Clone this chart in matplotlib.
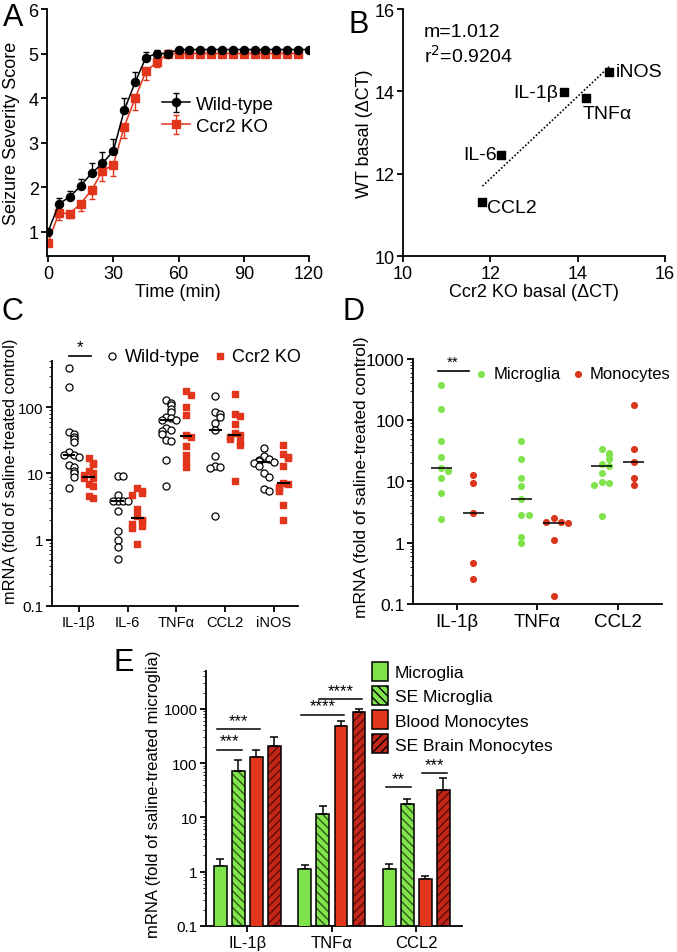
import numpy as np
import matplotlib
matplotlib.use("Agg")
import matplotlib.pyplot as plt
from matplotlib.ticker import LogLocator, NullFormatter
from matplotlib.patches import Patch

plt.rcParams['font.family'] = ['Liberation Sans', 'DejaVu Sans']
plt.rcParams['font.size'] = 13
plt.rcParams['axes.linewidth'] = 1.3
plt.rcParams['xtick.major.width'] = 1.3
plt.rcParams['ytick.major.width'] = 1.3
plt.rcParams['xtick.major.size'] = 4
plt.rcParams['ytick.major.size'] = 4
plt.rcParams['ytick.minor.size'] = 2
plt.rcParams['xtick.major.pad'] = 2.5
plt.rcParams['ytick.major.pad'] = 2
plt.rcParams['hatch.linewidth'] = 1.0

GREEN = '#80e34c'
RED = '#e2361c'
DARK_RED = '#c4261a'

# ---- panel A: seizure score over time ----
time_wt = np.arange(0, 125, 5)
score_wt = [1.0, 1.62, 1.78, 2.03, 2.31, 2.53, 2.81, 3.72, 4.35, 4.91, 5.0, 5.0,
            5.09, 5.09, 5.09, 5.09, 5.09, 5.09, 5.09, 5.09, 5.09, 5.09, 5.09, 5.09, 5.09]
err_wt = [0, 0.13, 0.13, 0.14, 0.24, 0.25, 0.26, 0.28, 0.24, 0.13, 0.09, 0.07,
          0, 0, 0, 0, 0, 0, 0, 0, 0, 0, 0, 0, 0]
time_ko = np.arange(0, 120, 5)
score_ko = [0.75, 1.42, 1.40, 1.63, 1.93, 2.36, 2.50, 3.35, 3.99, 4.60, 4.80, 5.0,
            5.0, 5.0, 5.0, 5.0, 5.0, 5.0, 5.0, 5.0, 5.0, 5.0, 5.0, 5.0]
err_ko = [0, 0.15, 0.10, 0.17, 0.19, 0.22, 0.25, 0.24, 0.25, 0.19, 0.10, 0,
          0, 0, 0, 0, 0, 0, 0, 0, 0, 0, 0, 0]

# ---- panel B: basal delta CT ----
genes_b = ['IL-1β', 'IL-6', 'TNFα', 'CCL2', 'iNOS']
ko_basal = [13.68, 12.25, 14.20, 11.82, 14.72]
wt_basal = [13.98, 12.46, 13.83, 11.31, 14.48]

# ---- panel C: WT vs Ccr2 KO ----
genes_c = ['IL-1β', 'IL-6', 'TNFα', 'CCL2', 'iNOS']
wt_c = [
    [390, 205, 43, 39, 36, 33, 30, 21, 19, 19, 18, 13.5, 12.5, 11, 10, 9, 6],
    [9.2, 9.2, 4.7, 3.9, 3.8, 3.8, 3.8, 2.7, 1.35, 1.0, 0.78, 0.52],
    [128, 115, 108, 95, 85, 72, 68, 65, 64, 48, 45, 44, 40, 32, 31, 16, 6.5],
    [148, 85, 80, 72, 58, 46, 18.5, 13, 12.5, 12, 2.3],
    [24, 18.5, 16.5, 16, 15.5, 15, 14.5, 13, 10, 9, 5.8, 5.5],
]
ko_c = [
    [17, 14.5, 14, 11, 10, 9.5, 8.5, 8.5, 7, 6.5, 4.5, 4.2],
    [6, 5.5, 5.0, 4.7, 2.9, 2.3, 2.0, 1.9, 1.75, 1.6, 1.5, 0.85],
    [178, 152, 100, 76, 38, 35, 26, 19, 15, 12.5],
    [158, 80, 75, 56, 41, 38, 36, 33, 30, 27, 7.7],
    [27, 20, 18, 17, 13, 7.2, 7, 6.3, 6, 5.5, 3.3, 2.0],
]

# ---- panel D: microglia vs monocytes ----
genes_d = ['IL-1β', 'TNFα', 'CCL2']
microglia_d = [
    [380, 154, 46, 25, 16.6, 14.6, 11.4, 6.5, 2.46],
    [45, 23.5, 11.4, 8.4, 5.1, 2.86, 2.8, 1.22, 1.0],
    [34, 29, 27, 23, 19, 18, 13.5, 9.8, 9.5, 8.8, 2.7],
]
monocytes_d = [
    [12.6, 9.5, 3.05, 0.47, 0.26],
    [2.5, 2.2, 2.15, 2.1, 1.1, 0.135],
    [178, 34, 20.7, 11.4, 8.6],
]

# ---- panel E: sorted populations ----
genes_e = ['IL-1β', 'TNFα', 'CCL2']
groups_e = ['Microglia', 'SE Microglia', 'Blood Monocytes', 'SE Brain Monocytes']
mean_e = [
    [1.27, 1.14, 1.14],
    [73, 11.5, 17.9],
    [129, 493, 0.72],
    [208, 893, 32.4],
]
sem_e = [
    [0.46, 0.21, 0.24],
    [40, 4.9, 3.6],
    [47, 107, 0.13],
    [97, 117, 20.6],
]
# (gene, bar i, bar j, height, stars)
sig_e = [
    (0, 0, 1, 177, '***'), (0, 0, 2, 430, '***'),
    (1, 0, 2, 780, '****'), (1, 1, 3, 1535, '****'),
    (2, 0, 1, 36.7, '**'), (2, 2, 3, 66.5, '***'),
]


def swarm_x(vals, center, step, tol):
    # put points side by side when they overlap on the log axis
    lv = np.log10(vals)
    xs = np.zeros(len(vals))
    for i in range(len(vals)):
        k = np.sum(np.abs(lv[:i] - lv[i]) < tol)
        side = 1 if k % 2 else -1
        xs[i] = center + side * ((k + 1) // 2) * step
    return xs


def log_axis(ax, top_decade, size):
    ax.set_yscale('log')
    ticks = [10.0 ** p for p in range(-1, top_decade + 1)]
    ax.set_yticks(ticks)
    ax.set_yticklabels(['0.1', '1', '10', '100', '1000'][:len(ticks)], fontsize=size)
    ax.yaxis.set_minor_locator(LogLocator(base=10, subs=np.arange(2, 10)))
    ax.yaxis.set_minor_formatter(NullFormatter())


def clean(ax):
    ax.spines['top'].set_visible(False)
    ax.spines['right'].set_visible(False)


fig = plt.figure(figsize=(6.77, 9.53), dpi=100)

# A
ax = fig.add_axes([0.0694, 0.7303, 0.387, 0.2592])
clean(ax)
ax.errorbar(time_wt, score_wt, yerr=[np.zeros(len(err_wt)), err_wt], color='black',
            lw=1.1, marker='o', ms=5.8, capsize=2.5, elinewidth=1, label='Wild-type', zorder=3)
ax.errorbar(time_ko, score_ko, yerr=[err_ko, np.zeros(len(err_ko))], color=RED,
            lw=1.1, marker='s', ms=5.2, capsize=2.5, elinewidth=1, label='Ccr2 KO', zorder=2)
ax.set_xlim(-0.5, 120)
ax.set_ylim(0.45, 6)
ax.set_xticks([0, 30, 60, 90, 120])
ax.set_yticks([1, 2, 3, 4, 5, 6])
ax.set_xlabel('Time (min)', labelpad=1)
ax.set_ylabel('Seizure Severity Score')
ax.yaxis.set_label_coords(-0.103, 0.5)
ax.legend(loc='center left', bbox_to_anchor=(0.44, 0.57), frameon=False,
          borderpad=0, borderaxespad=0, handlelength=1.5, handletextpad=0.3,
          labelspacing=0.25, fontsize=13.5)

# B
ax = fig.add_axes([0.5953, 0.7303, 0.387, 0.2592])
clean(ax)
ax.scatter(ko_basal, wt_basal, marker='s', s=28, color='black', zorder=3)
slope, icpt = np.polyfit(ko_basal, wt_basal, 1)
xf = np.array([min(ko_basal), max(ko_basal)])
ax.plot(xf, slope * xf + icpt, color='black', ls=(0, (1, 1.2)), lw=1.2)
ax.set_xlim(10, 16)
ax.set_ylim(10, 16)
ax.set_xticks([10, 12, 14, 16])
ax.set_yticks([10, 12, 14, 16])
ax.set_xlabel('Ccr2 KO basal (ΔCT)', labelpad=1)
ax.set_ylabel('WT basal (ΔCT)')
ax.yaxis.set_label_coords(-0.115, 0.5)
offsets_b = {'IL-1β': (-4, 0, 'right', 'center'), 'IL-6': (-3, 0, 'right', 'center'),
             'TNFα': (-3, -5, 'left', 'top'), 'CCL2': (3, -4, 'left', 'center'),
             'iNOS': (5, 0, 'left', 'center')}
for g, xv, yv in zip(genes_b, ko_basal, wt_basal):
    dx, dy, ha, va = offsets_b[g]
    ax.annotate(g, (xv, yv), xytext=(dx, dy), textcoords='offset points',
                ha=ha, va=va, fontsize=14)
ax.text(0.08, 0.91, 'm=1.012', transform=ax.transAxes, fontsize=14, va='center')
ax.text(0.08, 0.815, 'r$^2$=0.9204', transform=ax.transAxes, fontsize=14, va='center')

# C
ax = fig.add_axes([0.0768, 0.3631, 0.3634, 0.2571])
clean(ax)
for i in range(len(genes_c)):
    xw = swarm_x(wt_c[i], i - 0.2, 0.1, 0.07)
    xk = swarm_x(ko_c[i], i + 0.2, 0.1, 0.07)
    ax.scatter(xw, wt_c[i], s=26, facecolor='white', edgecolor='black', lw=0.9,
               label='Wild-type' if i == 0 else None, zorder=3)
    ax.scatter(xk, ko_c[i], s=24, marker='s', color=RED,
               label='Ccr2 KO' if i == 0 else None, zorder=3)
    ax.hlines(np.median(wt_c[i]), i - 0.33, i - 0.07, color='black', lw=1.5, zorder=4)
    ax.hlines(np.median(ko_c[i]), i + 0.07, i + 0.33, color='black', lw=1.5, zorder=4)
log_axis(ax, 2, 11)
ax.set_ylim(0.1, 500)
ax.set_xlim(-0.55, 4.5)
ax.set_xticks(range(len(genes_c)))
ax.set_xticklabels(genes_c, fontsize=10.5)
ax.set_ylabel('mRNA (fold of saline-treated control)', fontsize=11.8)
ax.yaxis.set_label_coords(-0.14, 0.555)
ax.plot([-0.2, 0.25], [590, 590], color='black', lw=1.2, clip_on=False)
ax.text(0.02, 640, '*', ha='center', va='bottom', fontsize=12)
ax.legend(ncol=2, loc='center left', bbox_to_anchor=(0.2, 1.02), frameon=False,
          borderpad=0, borderaxespad=0, handletextpad=0.1, columnspacing=0.5,
          fontsize=13, handlelength=1.2)

# D
ax = fig.add_axes([0.610, 0.3652, 0.3678, 0.2571])
clean(ax)
for i in range(len(genes_d)):
    xm = swarm_x(microglia_d[i], i - 0.2, 0.09, 0.08)
    xo = swarm_x(monocytes_d[i], i + 0.2, 0.09, 0.08)
    ax.scatter(xm, microglia_d[i], s=26, color=GREEN, lw=0,
               label='Microglia' if i == 0 else None, zorder=3)
    ax.scatter(xo, monocytes_d[i], s=26, color='#d8351c', lw=0,
               label='Monocytes' if i == 0 else None, zorder=3)
    ax.hlines(np.median(microglia_d[i]), i - 0.33, i - 0.07, color='black', lw=1.1, zorder=4)
    ax.hlines(np.median(monocytes_d[i]), i + 0.07, i + 0.33, color='black', lw=1.1, zorder=4)
log_axis(ax, 3, 12.5)
ax.set_ylim(0.1, 1000)
ax.set_xlim(-0.55, 2.55)
ax.set_xticks(range(len(genes_d)))
ax.set_xticklabels(genes_d, fontsize=13.5)
ax.set_ylabel('mRNA (fold of saline-treated control)', fontsize=12.5)
ax.yaxis.set_label_coords(-0.175, 0.522)
ax.plot([-0.24, 0.15], [640, 640], color='black', lw=1.2)
ax.text(-0.05, 700, '**', ha='center', va='bottom', fontsize=11)
ax.legend(ncol=2, loc='center left', bbox_to_anchor=(0.235, 0.94), frameon=False,
          borderpad=0, borderaxespad=0, handletextpad=0.1, columnspacing=0.45,
          fontsize=12, handlelength=1.2)

# E
ax = fig.add_axes([0.3043, 0.0273, 0.378, 0.2676])
clean(ax)
width = 0.15
offs = [-0.32, -0.107, 0.107, 0.32]
faces = [GREEN, GREEN, RED, DARK_RED]
hatches = [None, '\\\\\\\\', None, '////']
hcols = [None, '#2f5a14', None, '#5e0a06']
xg = np.arange(len(genes_e))
for k in range(4):
    xk = xg + offs[k]
    if hatches[k]:
        ax.bar(xk, mean_e[k], width, color=faces[k], edgecolor=hcols[k],
               hatch=hatches[k], lw=0, zorder=2)
        ax.bar(xk, mean_e[k], width, fill=False, edgecolor='black', lw=1.1, zorder=3)
    else:
        ax.bar(xk, mean_e[k], width, color=faces[k], edgecolor='black', lw=1.1, zorder=3)
    ax.errorbar(xk, mean_e[k], yerr=[np.zeros(3), sem_e[k]], fmt='none',
                ecolor='black', elinewidth=1.1, capsize=3, capthick=1.1, zorder=2)
for g, i, j, h, stars in sig_e:
    x1, x2 = g + offs[i] - 0.04, g + offs[j] + 0.04
    ax.plot([x1, x2], [h, h], color='black', lw=1.1)
    ax.text((x1 + x2) / 2, h * 1.05, stars, ha='center', va='bottom', fontsize=12)
log_axis(ax, 3, 11)
ax.set_ylim(0.1, 5000)
ax.set_xlim(-0.49, 2.54)
ax.set_xticks(xg)
ax.set_xticklabels(genes_e, fontsize=12)
ax.set_ylabel('mRNA (fold of saline-treated microglia)', fontsize=12)
ax.yaxis.set_label_coords(-0.175, 0.52)
handles = []
for k in range(4):
    if hatches[k]:
        handles.append(Patch(facecolor=faces[k], edgecolor='black', hatch=hatches[k], lw=1.1))
    else:
        handles.append(Patch(facecolor=faces[k], edgecolor='black', lw=1.1))
ax.legend(handles, groups_e, loc='upper left', bbox_to_anchor=(0.65, 1.035), frameon=False,
          borderpad=0, borderaxespad=0, handlelength=0.9, handleheight=1.3,
          handletextpad=0.4, labelspacing=0.3, fontsize=12.5)

# panel letters
for lbl, xp, yp in [('A', 0.004, 0.997), ('B', 0.515, 0.99), ('C', 0.002, 0.688),
                    ('D', 0.506, 0.688), ('E', 0.168, 0.32)]:
    fig.text(xp, yp, lbl, fontsize=22, va='top', ha='left')

fig.savefig('out.png', dpi=100)
